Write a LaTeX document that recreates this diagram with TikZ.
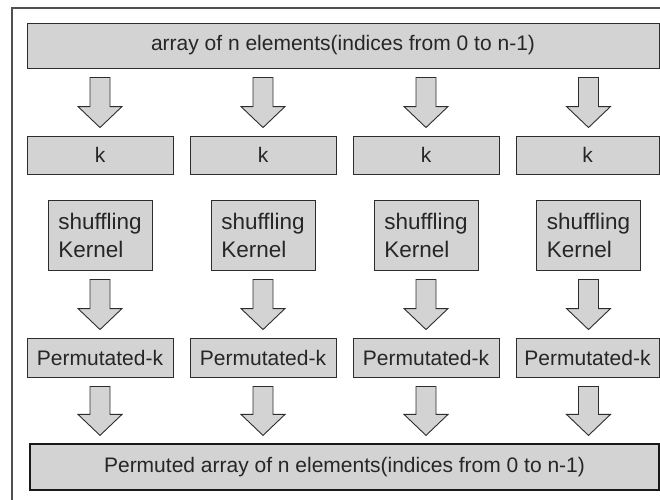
\documentclass[tikz,border=0pt]{standalone}
\usepackage{fontspec}
\setmainfont{Liberation Sans}
\usetikzlibrary{calc}
\definecolor{boxfill}{RGB}{211,211,212}
\definecolor{boxline}{RGB}{45,45,45}
\definecolor{frameline}{RGB}{80,80,80}
\tikzset{
  box/.style={draw=boxline, line width=0.9pt, fill=boxfill, inner sep=0pt,
    font=\fontsize{21}{27}\selectfont, text=black!85},
  wide/.style={box, minimum height=45pt},
  kbox/.style={box, minimum width=146pt, minimum height=38pt},
  kern/.style={box, minimum width=104pt, minimum height=70pt, align=left,
    font=\fontsize{22.5}{28}\selectfont},
  pbox/.style={box, minimum width=146pt, minimum height=39pt},
  fat/.style={draw=boxline, line width=0.9pt, fill=boxfill, line join=miter}
}
% #1 source node, #2 target node, #3 node giving the x position
\newcommand\fatarrow[3]{%
  \draw[fat] let \p1=(#2.north), \p2=(#1.south), \p3=(#3.center) in
    (\x3-10pt,\y2-9pt) -- (\x3+10pt,\y2-9pt) -- (\x3+10pt,\y1+29pt) --
    (\x3+22pt,\y1+29pt) -- (\x3,\y1+8pt) -- (\x3-22pt,\y1+29pt) --
    (\x3-10pt,\y1+29pt) -- cycle;}
\begin{document}
\begin{tikzpicture}[x=1pt,y=-1pt]
\useasboundingbox (0,0) rectangle (660,499);
% frame (only top and left visible)
\coordinate (fr1) at (12,499.5);
\coordinate (fr2) at (12,8);
\coordinate (fr3) at (661,8);
\draw[frameline, line width=1.5pt] (fr1) -- (fr2) -- (fr3);
% top box
\node[wide, minimum width=632pt] (top) at (343,45.5) {array of n elements(indices from 0 to n-1)};
% k boxes
\node[kbox] (k1) at (100,155) {k};
\node[kbox] (k2) at (263,155) {k};
\node[kbox] (k3) at (426,155) {k};
\node[kbox, minimum width=143pt] (k4) at (587.5,155) {k};
% kernels
\node[kern] (s1) at (100,235) {shuffling\\Kernel};
\node[kern] (s2) at (263,235) {shuffling\\Kernel};
\node[kern] (s3) at (426,235) {shuffling\\Kernel};
\node[kern] (s4) at (588.5,235) {shuffling\\Kernel};
% permutated
\node[pbox] (p1) at (100,357.5) {Permutated-k};
\node[pbox] (p2) at (263,357.5) {Permutated-k};
\node[pbox] (p3) at (426,357.5) {Permutated-k};
\node[pbox, minimum width=143pt] (p4) at (587.5,357.5) {Permutated-k};
% bottom box
\node[wide, minimum width=629pt, minimum height=46pt, line width=1.2pt, draw=black!90] (bot) at (344.5,467) {Permuted array of n elements(indices from 0 to n-1)};
% arrows
\fatarrow{top}{k1}{k1}
\fatarrow{top}{k2}{k2}
\fatarrow{top}{k3}{k3}
\fatarrow{top}{k4}{s4}
\fatarrow{s1}{p1}{s1}
\fatarrow{s2}{p2}{s2}
\fatarrow{s3}{p3}{s3}
\fatarrow{s4}{p4}{s4}
\fatarrow{p1}{bot}{s1}
\fatarrow{p2}{bot}{s2}
\fatarrow{p3}{bot}{s3}
\fatarrow{p4}{bot}{s4}
\end{tikzpicture}
\end{document}
